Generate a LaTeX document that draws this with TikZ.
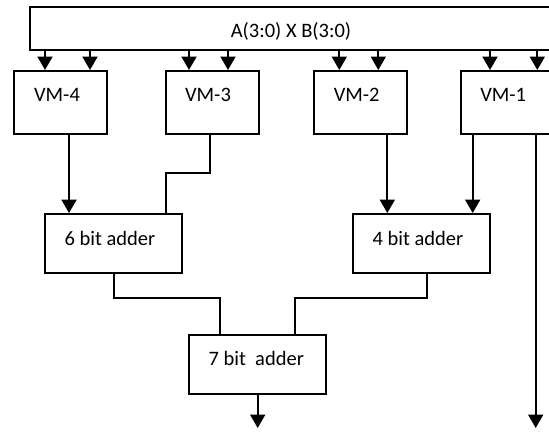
\documentclass[tikz,border=0pt]{standalone}
\usepackage{fontspec}
\setmainfont{Carlito}
\usetikzlibrary{arrows.meta,calc}
\begin{document}
\begin{tikzpicture}[x=1pt,y=-1pt,
  txt/.style={font=\fontsize{20.5}{24}\selectfont},
  blk/.style={draw,line width=2pt,inner sep=0pt,txt},
  vmbox/.style={blk,minimum width=93pt,minimum height=63pt},
  addbox/.style={blk,minimum width=136.7pt,minimum height=58.7pt},
  wire/.style={line width=2pt},
  arr/.style={wire,-{Triangle[width=15pt,length=13.5pt]}}]
\useasboundingbox (0,0) rectangle (549,432);
\clip (0,0) rectangle (549,432);
% blocks
\node[blk,minimum width=529pt,minimum height=42.7pt,
  label={[txt,xshift=-3pt,yshift=-2.5pt]center:A(3:0) X B(3:0)}] (top) at (294,28.7) {};
\node[vmbox,label={[txt,xshift=-3.5pt,yshift=7.5pt]center:VM-4}] (vm4) at (60.5,102.5) {};
\node[vmbox,label={[txt,xshift=-4pt,yshift=7.5pt]center:VM-3}] (vm3) at (212,102.5) {};
\node[vmbox,label={[txt,xshift=-3.6pt,yshift=7.5pt]center:VM-2}] (vm2) at (360.3,102.5) {};
\node[vmbox,label={[txt,xshift=-4pt,yshift=7.5pt]center:VM-1}] (vm1) at (507.2,102.5) {};
\node[addbox,label={[txt,xshift=-3.3pt,yshift=5.4pt]center:6 bit adder}] (add6) at (113.3,243.4) {};
\node[addbox,label={[txt,xshift=-3.7pt,yshift=5.4pt]center:4 bit adder}] (add4) at (421.7,243.4) {};
\node[addbox,minimum height=59pt,label={[txt,xshift=-1.4pt,yshift=6.5pt]center:7 bit\ \ adder}] (add7) at (257.7,364.5) {};
% x positions of wires
\coordinate (t1) at (45,0);    \coordinate (t2) at (90,0);
\coordinate (t3) at (189,0);   \coordinate (t4) at (228,0);
\coordinate (t5) at (339.3,0); \coordinate (t6) at (378.3,0);
\coordinate (t7) at (490,0);   \coordinate (t8) at (537.3,0);
\coordinate (w4) at (69,0);
\coordinate (w3a) at (210,172.7); \coordinate (w3b) at (165.7,172.7);
\coordinate (w2) at (387.3,0);
\coordinate (w1a) at (472.7,0);
\coordinate (w1b) at (535.7,0);
\coordinate (out1) at (535.7,428);
\coordinate (s6a) at (114.3,298); \coordinate (s6b) at (220,298);
\coordinate (s4a) at (427,298);   \coordinate (s4b) at (295,298);
\coordinate (out7) at (257.7,428);
% top arrows
\draw[arr] (top.south -| t1) -- (vm4.north -| t1);
\draw[arr] (top.south -| t2) -- (vm4.north -| t2);
\draw[arr] (top.south -| t3) -- (vm3.north -| t3);
\draw[arr] (top.south -| t4) -- (vm3.north -| t4);
\draw[arr] (top.south -| t5) -- (vm2.north -| t5);
\draw[arr] (top.south -| t6) -- (vm2.north -| t6);
\draw[arr] (top.south -| t7) -- (vm1.north -| t7);
\draw[arr] (top.south -| t8) -- (vm1.north -| t8);
% VM outputs
\draw[arr] (vm4.south -| w4) -- (add6.north -| w4);
\draw[wire] (vm3.south -| w3a) -- (w3a) -- (w3b) -- (add6.north -| w3b);
\draw[arr] (vm2.south -| w2) -- (add4.north -| w2);
\draw[arr] (vm1.south -| w1a) -- (add4.north -| w1a);
\draw[arr] (vm1.south -| w1b) -- (out1);
% adder outputs
\draw[wire] (add6.south -| s6a) -- (s6a) -- (s6b) -- (add7.north -| s6b);
\draw[wire] (add4.south -| s4a) -- (s4a) -- (s4b) -- (add7.north -| s4b);
\draw[arr] (add7.south -| out7) -- (out7);
\end{tikzpicture}
\end{document}
